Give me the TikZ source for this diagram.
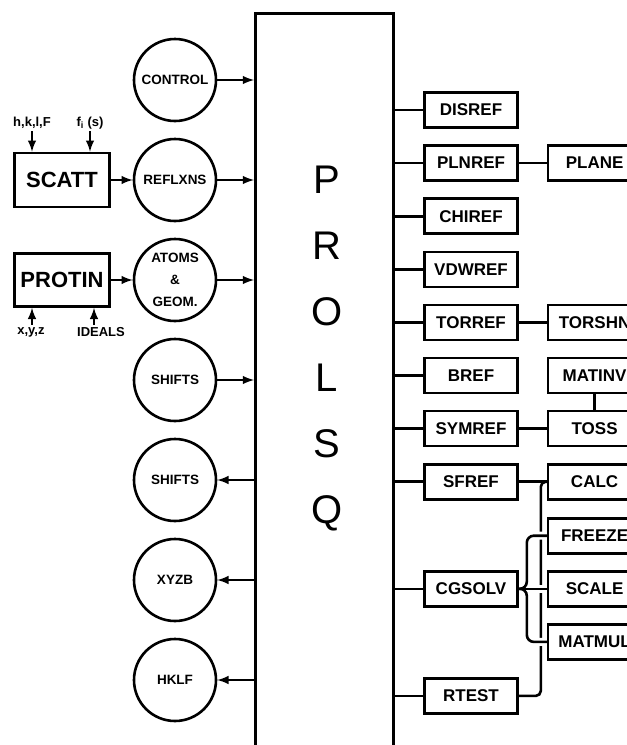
\documentclass[tikz,border=0pt]{standalone}
\usepackage{fontspec}
\setmainfont{Liberation Sans}
\usetikzlibrary{shapes,arrows,positioning,calc}

\begin{document}
\begin{tikzpicture}[
  x=1pt, y=-1pt,
  line width=2.6pt,
  node distance=15.5pt,
  ring/.style={draw, circle, minimum size=82pt, inner sep=0pt, align=center, font=\bfseries\fontsize{13.5}{22}\selectfont},
  sub/.style={draw, rectangle, minimum width=93pt, minimum height=35pt, inner sep=0pt, font=\bfseries\fontsize{17}{20}\selectfont},
  prog/.style={draw, rectangle, minimum width=95pt, minimum height=54pt, inner sep=0pt, font=\bfseries\fontsize{22}{24}\selectfont},
  tag/.style={inner sep=1pt, font=\bfseries\fontsize{13}{15}\selectfont},
  letter/.style={anchor=base, inner sep=0pt, font=\fontsize{40}{40}\selectfont},
  halo/.style={white, line width=8pt, rounded corners=7pt, shorten <=3pt, shorten >=3pt},
  arrow/.style={->, >=latex, line width=2.8pt}
]
\useasboundingbox (0,0) rectangle (627,745);
\clip (0,0) rectangle (627,745);

% main program block
\node[draw, line width=3pt, minimum width=138pt, minimum height=760pt, anchor=north west] (main) at (254,12) {};
\foreach \c [count=\i] in {P,R,O,L,S,Q}
  \node[letter] (let\i) at (327,{193+66*(\i-1)}) {\c};

% data circles
\node[ring] (ctl) at (175,80) {CONTROL};
\node[ring, below=15.4pt of ctl] (rfl) {REFLXNS};
\node[ring, below=15.4pt of rfl] (atm) {ATOMS\\\&\\GEOM.};
\node[ring, below=15.4pt of atm] (sh1) {SHIFTS};
\node[ring, below=15.4pt of sh1] (sh2) {SHIFTS};
\node[ring, below=15.4pt of sh2] (xyz) {XYZB};
\node[ring, below=15.4pt of xyz] (hkf) {HKLF};

% preparation programs
\node[prog] (sc) at (62,180) {SCATT};
\node[prog, minimum height=53pt] (pr) at (62,280) {PROTIN};
\node[tag] (inh) at (32,123) {h,k,l,F};
\node[tag] (inf) at (90,123) {f\textsubscript{i} (s)};
\node[tag] (inx) at (31,332) {x,y,z};
\node[tag] (ini) at (101,332) {IDEALS};

\draw[arrow] (inh.south) -- (inh.south |- sc.north);
\draw[arrow] (inf.south) -- (inf.south |- sc.north);
\draw[arrow] ([xshift=1pt]inx.north) -- ([xshift=1pt]inx.north |- pr.south);
\draw[arrow] ([xshift=-7pt]ini.north) -- ([xshift=-7pt]ini.north |- pr.south);
\draw[arrow] (sc) -- (rfl);
\draw[arrow] (pr) -- (atm);

\foreach \n in {ctl,rfl,atm,sh1}
  \draw[arrow] (\n) -- (\n -| main.west);
\foreach \n in {sh2,xyz,hkf}
  \draw[arrow] (\n -| main.west) -- (\n);

% subroutines
\node[sub] (dis) at (471,110) {DISREF};
\node[sub, below=of dis] (pln) {PLNREF};
\node[sub, below=of pln] (chi) {CHIREF};
\node[sub, below=of chi] (vdw) {VDWREF};
\node[sub, below=of vdw] (tor) {TORREF};
\node[sub, below=of tor] (bre) {BREF};
\node[sub, below=of bre] (sym) {SYMREF};
\node[sub, below=of sym] (sfr) {SFREF};
\node[sub, below=69.5pt of sfr] (cgs) {CGSOLV};
\node[sub, below=69.5pt of cgs] (rts) {RTEST};

\node[sub, right=28pt of pln] (pla) {PLANE};
\node[sub, right=28pt of tor] (tsh) {TORSHN};
\node[sub, right=28pt of sym] (tos) {TOSS};
\node[sub, above=of tos] (mtv) {MATINV};
\node[sub, right=28pt of sfr] (cal) {CALC};
\node[sub, right=28pt of cgs] (sca) {SCALE};
\node[sub, above=of sca] (frz) {FREEZE};
\node[sub, below=of sca] (mtm) {MATMUL};

\foreach \n in {dis,pln,chi,vdw,tor,bre,sym,sfr,cgs,rts}
  \draw (main.east |- \n.west) -- (\n.west);
\foreach \a/\b in {pln/pla, tor/tsh, sym/tos, sfr/cal, mtv/tos}
  \draw (\a) -- (\b);

\draw[rounded corners=5pt] (rts.east) -| ($(cal.west)+(-6,0)$) -- (cal.west);

% bracket from CGSOLV, crossing the RTEST line
\foreach \t in {frz,mtm}
  \draw[halo] (cgs.east) -| ($(\t.west)+(-20,0)$) -- (\t.west);
\draw[halo] (cgs) -- (sca);
\foreach \t in {frz,mtm}
  \draw[rounded corners=7pt] (cgs.east) -| ($(\t.west)+(-20,0)$) -- (\t.west);
\draw (cgs) -- (sca);
\end{tikzpicture}
\end{document}
